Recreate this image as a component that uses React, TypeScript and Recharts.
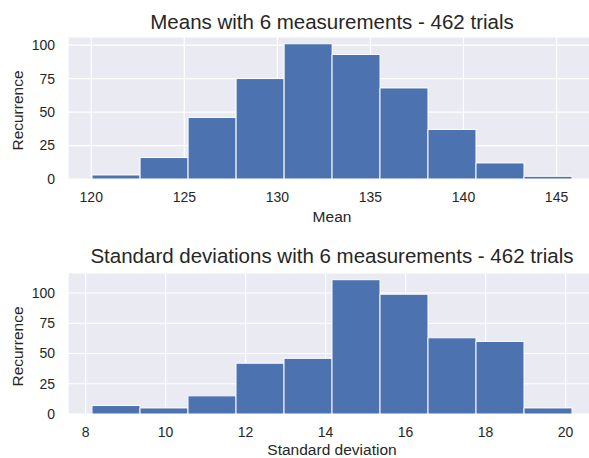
import React from 'react';
import { BarChart, Bar, XAxis, YAxis, CartesianGrid } from 'recharts';

// bin edges and counts
const meanEdges = [120.04, 122.62, 125.2, 127.78, 130.36, 132.94, 135.51, 138.09, 140.67, 143.25, 145.83];
const meanCounts = [3, 16, 46, 75, 101, 93, 68, 37, 12, 2];
const meanTicks = [120, 125, 130, 135, 140, 145];

const sdEdges = [8.16, 9.36, 10.56, 11.76, 12.96, 14.16, 15.36, 16.56, 17.76, 18.96, 20.16];
const sdCounts = [7, 5, 15, 42, 46, 111, 99, 63, 60, 5];
const sdTicks = [8, 10, 12, 14, 16, 18, 20];

const countTicks = [0, 25, 50, 75, 100];

const FONT = '"Liberation Sans", Arial, sans-serif';
const TEXT = '#262626';

const toBins = (edges: number[], counts: number[]) =>
  counts.map((c, i) => ({ mid: (edges[i] + edges[i + 1]) / 2, count: c }));

const Hist: React.FC<{
  edges: number[];
  counts: number[];
  ticks: number[];
  top: number;
  axisHeight: number;
}> = ({ edges, counts, ticks, top, axisHeight }) => {
  const lo = edges[0];
  const hi = edges[edges.length - 1];
  const pad = (hi - lo) * 0.05;
  const yMax = Math.max(...counts) * 1.05;
  return (
    <BarChart
      width={600}
      height={229}
      data={toBins(edges, counts)}
      margin={{ top, right: 4, left: 0, bottom: 0 }}
      barCategoryGap={0}
      barGap={0}
    >
      <CartesianGrid fill="#EAEAF2" stroke="#ffffff" strokeWidth={1.2} />
      <XAxis
        dataKey="mid"
        type="number"
        domain={[lo - pad, hi + pad]}
        ticks={ticks}
        height={axisHeight}
        axisLine={false}
        tickLine={false}
        tickSize={0}
        tickMargin={13}
        tick={{ fill: TEXT, fontSize: 14, fontFamily: FONT }}
        allowDataOverflow
      />
      <YAxis
        type="number"
        domain={[0, yMax]}
        ticks={countTicks}
        width={68}
        axisLine={false}
        tickLine={false}
        tickSize={0}
        tickMargin={13}
        tick={{ fill: TEXT, fontSize: 14, fontFamily: FONT }}
        allowDataOverflow
      />
      <Bar dataKey="count" fill="#4C72B0" stroke="#ffffff" strokeWidth={1} isAnimationActive={false} />
    </BarChart>
  );
};

export default function App() {
  return (
    <div style={{ position: 'absolute', left: 0, top: 0, width: 589, height: 458, overflow: 'hidden', background: '#fff' }}>
      <div style={{ position: 'absolute', left: 0, top: 0 }}>
        <Hist edges={meanEdges} counts={meanCounts} ticks={meanTicks} top={37} axisHeight={50} />
      </div>
      <div style={{ position: 'absolute', left: 0, top: 229 }}>
        <Hist edges={sdEdges} counts={sdCounts} ticks={sdTicks} top={44} axisHeight={44} />
      </div>
      <svg width={589} height={458} style={{ position: 'absolute', left: 0, top: 0, pointerEvents: 'none' }}>
        <g fontFamily={FONT} fill={TEXT} textAnchor="middle">
          <text x={332} y={29} fontSize={20.5}>Means with 6 measurements - 462 trials</text>
          <text x={332} y={222} fontSize={15.5}>Mean</text>
          <text transform="translate(23.3, 110.5) rotate(-90)" fontSize={15.5}>Recurrence</text>
          <text x={332} y={263.3} fontSize={20.5}>Standard deviations with 6 measurements - 462 trials</text>
          <text x={332} y={455} fontSize={15.5}>Standard deviation</text>
          <text transform="translate(23.3, 346.5) rotate(-90)" fontSize={15.5}>Recurrence</text>
        </g>
      </svg>
    </div>
  );
}
